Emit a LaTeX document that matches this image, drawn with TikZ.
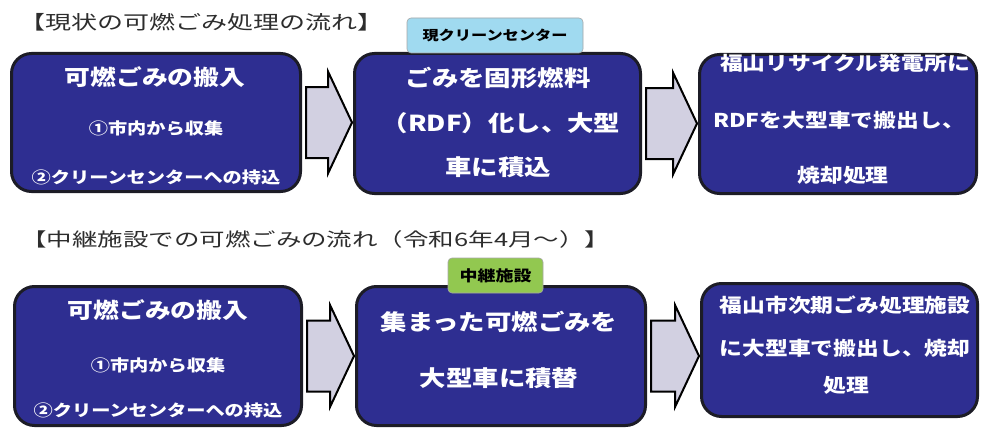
\documentclass[tikz,border=0pt]{standalone}
\usepackage{fontspec}
\newfontfamily\jp[FakeStretch=1.2]{Noto Sans CJK JP}
\newfontfamily\jpt[FakeStretch=1.37]{Noto Sans CJK JP}
\usetikzlibrary{calc}
\definecolor{boxblue}{RGB}{46,46,145}
\definecolor{boxedge}{RGB}{28,28,38}
\definecolor{arrowfill}{RGB}{210,208,225}
\definecolor{lblblue}{RGB}{160,218,240}
\definecolor{lblgreen}{RGB}{146,200,80}
\definecolor{titlegray}{RGB}{45,45,45}
\newcommand\flowarrow[2]{%
  \draw[arrowbox] let \p1=($(#1.east)+(4,0)$), \p2=($(#2.west)+(-1,0)$) in
    (\x1,\y1+35.5pt) -- (\x2-24pt,\y1+35.5pt) -- (\x2-24pt,\y1+51pt) -- (\x2,\y1)
    -- (\x2-24pt,\y1-51pt) -- (\x2-24pt,\y1-35.5pt) -- (\x1,\y1-35.5pt) -- cycle;}
\begin{document}
\begin{tikzpicture}[x=1pt,y=-1pt,
  flowbox/.style={draw=boxedge, line width=3pt, fill=boxblue, rounded corners=20pt, inner sep=0pt},
  arrowbox/.style={draw=black, line width=2pt, fill=arrowfill, line join=miter},
  lbl/.style={draw=gray!70, line width=0.6pt, rounded corners=4pt, inner sep=0pt, text=black,
    font=\jp\bfseries\fontsize{13.5}{15}\selectfont},
  bigtxt/.style={text=white, inner sep=0pt, font=\jp\bfseries\fontsize{22}{26}\selectfont},
  midtxt/.style={text=white, inner sep=0pt, font=\jp\bfseries\fontsize{19}{23}\selectfont},
  headtxt/.style={text=white, inner sep=0pt, font=\jp\bfseries\fontsize{21.5}{25}\selectfont},
  smalltxt/.style={text=white, inner sep=0pt, font=\jp\bfseries\fontsize{16}{19}\selectfont},
  titletxt/.style={text=titlegray, inner sep=0pt, anchor=west, font=\jpt\fontsize{19}{22}\selectfont}]
\useasboundingbox (0,0) rectangle (984,428);

% titles
\node[titletxt] (t1) at (19,22) {【現状の可燃ごみ処理の流れ】};
\node[titletxt, font=\jpt\fontsize{18.6}{22}\selectfont] (t2) at (21,239) {【中継施設での可燃ごみの流れ（令和6年4月～）】};

% top row boxes
\node[flowbox, minimum width=289, minimum height=138] (b1) at (156,122.5) {};
\node[flowbox, minimum width=286, minimum height=140] (b2) at (497.5,123.5) {};
\node[flowbox, minimum width=277, minimum height=139] (b3) at (838,124) {};
% bottom row boxes
\node[flowbox, minimum width=287, minimum height=139] (b4) at (158,356) {};
\node[flowbox, minimum width=289, minimum height=139] (b5) at (501,356) {};
\node[flowbox, minimum width=276, minimum height=133] (b6) at (839.5,350) {};

% arrows
\flowarrow{b1}{b2}
\flowarrow{b2}{b3}
\flowarrow{b4}{b5}
\flowarrow{b5}{b6}

% labels
\node[lbl, fill=lblblue, minimum width=176, minimum height=35] (l1) at (495,35.5) {現クリーンセンター};
\node[lbl, fill=lblgreen, minimum width=95, minimum height=35, font=\jp\bfseries\fontsize{15}{17}\selectfont] (l2) at (495.5,275.5) {中継施設};

% box texts, top row
\node[headtxt] (b1a) at (155,77) {可燃ごみの搬入};
\node[smalltxt] (b1b) at (156,128) {①市内から収集};
\node[smalltxt] (b1c) at (156,177) {②クリーンセンターへの持込};

\node[bigtxt] (b2a) at (498,78) {ごみを固形燃料};
\node[bigtxt] (b2b) at (501,123) {（RDF）化し、大型};
\node[bigtxt] (b2c) at (498,167) {車に積込};

\node[midtxt] (b3a) at (845,63) {福山リサイクル発電所に};
\node[midtxt] (b3b) at (839,120) {RDFを大型車で搬出し、};
\node[midtxt] (b3c) at (843,175) {焼却処理};

% box texts, bottom row
\node[headtxt] (b4a) at (158,310) {可燃ごみの搬入};
\node[smalltxt] (b4b) at (158,365) {①市内から収集};
\node[smalltxt] (b4c) at (158,410) {②クリーンセンターへの持込};

\node[bigtxt] (b5a) at (499,322) {集まった可燃ごみを};
\node[bigtxt] (b5b) at (499,378) {大型車に積替};

\node[midtxt] (b6a) at (845,305) {福山市次期ごみ処理施設};
\node[midtxt] (b6b) at (845,348) {に大型車で搬出し、焼却};
\node[midtxt] (b6c) at (846,385) {処理};
\end{tikzpicture}
\end{document}
